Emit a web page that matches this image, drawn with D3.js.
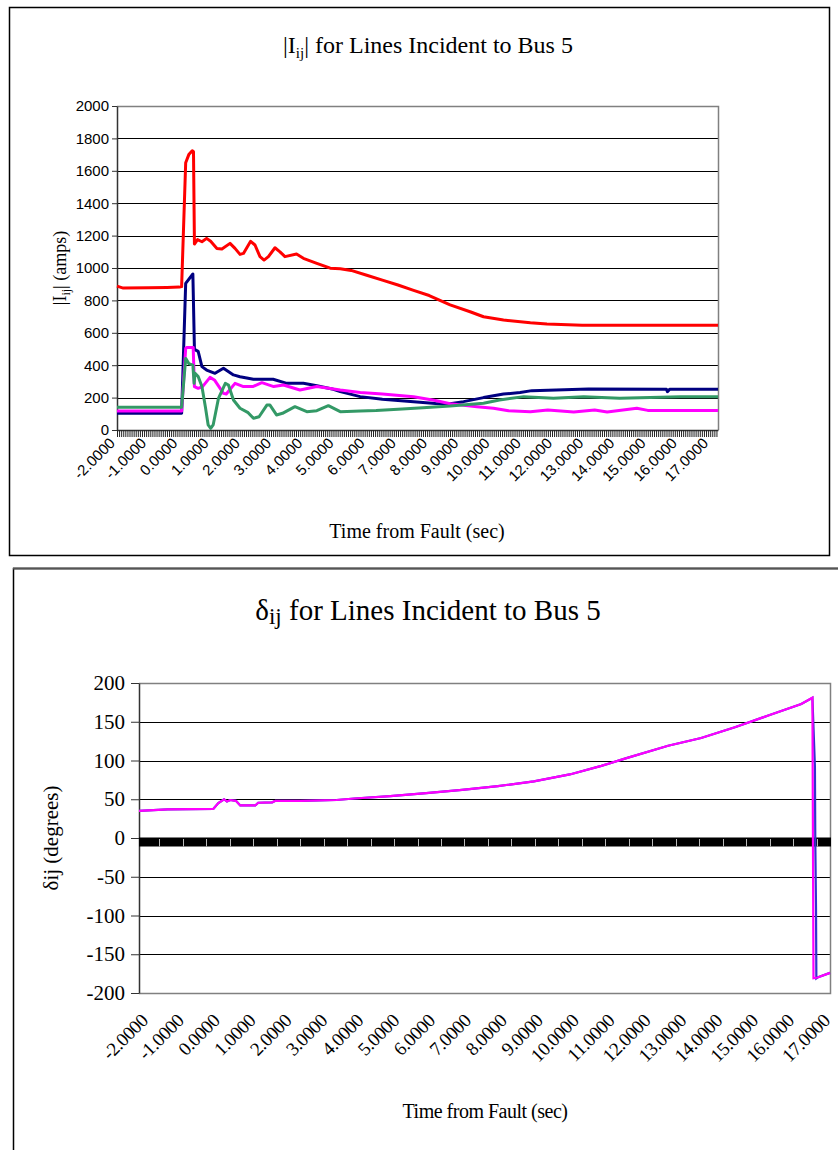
<!DOCTYPE html>
<html>
<head>
<meta charset="utf-8">
<script src="https://cdn.jsdelivr.net/npm/d3@7"></script>
<style>
  html, body { margin: 0; padding: 0; background: #fff; }
  svg { display: block; }
</style>
</head>
<body>
<svg id="chart" width="838" height="1150"></svg>
<script>
// ---- shared time axis (seconds from fault) ----
const timeDomain = [-2, 17.25];
const xLabelTimes = [-2, -1, 0, 1, 2, 3, 4, 5, 6, 7, 8, 9, 10, 11, 12, 13, 14, 15, 16, 17];

// ---- |Iij| currents (amps) : [time, amps] ----
const currentTicks = [0, 200, 400, 600, 800, 1000, 1200, 1400, 1600, 1800, 2000];

const currentRed = [
  [-2, 888], [-1.8, 876], [-1.0, 878], [-0.4, 880], [0.0, 882], [0.07, 885],
  [0.2, 1650], [0.3, 1700], [0.41, 1724], [0.45, 1718], [0.48, 1148], [0.58, 1175],
  [0.72, 1162], [0.87, 1183], [1.0, 1165], [1.2, 1121], [1.36, 1117], [1.62, 1152],
  [1.78, 1121], [1.94, 1084], [2.05, 1090], [2.28, 1165], [2.42, 1142], [2.58, 1070],
  [2.71, 1049], [2.85, 1070], [3.06, 1125], [3.22, 1100], [3.38, 1070], [3.75, 1086],
  [3.97, 1060], [4.4, 1029], [4.83, 999], [5.15, 995], [5.5, 985], [6.0, 955],
  [6.5, 925], [7.0, 895], [7.5, 862], [8.0, 830], [8.67, 772], [9.31, 730],
  [9.74, 699], [10.38, 679], [11.24, 662], [11.77, 654], [12.9, 646], [17.25, 646]
];

const currentNavy = [
  [-2, 103], [0.07, 103], [0.2, 905], [0.43, 963], [0.48, 498], [0.6, 485],
  [0.72, 391], [0.87, 370], [1.14, 350], [1.41, 381], [1.73, 340], [1.94, 329],
  [2.37, 313], [3.0, 313], [3.44, 288], [3.97, 288], [4.4, 273], [4.93, 251],
  [5.15, 237], [5.79, 206], [6.5, 190], [7.5, 175], [8.2, 163], [8.67, 162],
  [9.1, 175], [9.74, 200], [10.38, 222], [10.91, 231], [11.29, 243], [13.1, 253],
  [15.6, 251], [15.63, 237], [15.7, 251], [17.25, 251]
];

const currentMagenta = [
  [-2, 117], [0.07, 117], [0.2, 504], [0.25, 510], [0.44, 510], [0.48, 268],
  [0.6, 257], [0.74, 268], [0.98, 325], [1.12, 309], [1.41, 226], [1.5, 222],
  [1.78, 288], [2.05, 268], [2.35, 268], [2.64, 292], [3.02, 268], [3.33, 278],
  [3.86, 247], [4.4, 268], [5.15, 247], [5.79, 232], [6.5, 222], [7.5, 205],
  [8.2, 182], [8.67, 162], [9.53, 144], [10.06, 134], [10.54, 119], [11.24, 113],
  [11.8, 123], [12.63, 111], [13.3, 123], [13.7, 111], [14.65, 134], [15.0, 121],
  [17.25, 121]
];

const currentGreen = [
  [-2, 140], [0.07, 140], [0.2, 442], [0.3, 410], [0.43, 401], [0.47, 288],
  [0.5, 350], [0.6, 330], [0.72, 268], [0.83, 144], [0.92, 31], [1.0, 10],
  [1.08, 31], [1.25, 195], [1.47, 288], [1.57, 278], [1.73, 185], [1.94, 134],
  [2.2, 107], [2.37, 72], [2.55, 82], [2.8, 154], [2.9, 154], [3.11, 93],
  [3.3, 103], [3.7, 144], [4.08, 113], [4.4, 119], [4.77, 150], [5.15, 113],
  [5.79, 117], [6.3, 120], [7.0, 128], [7.8, 138], [8.67, 148], [9.74, 165],
  [10.25, 185], [11.03, 206], [11.98, 196], [12.95, 206], [14.1, 196], [16.05, 206],
  [17.25, 206]
];

// ---- delta_ij angles (degrees) : [time, degrees] ----
const angleTicks = [200, 150, 100, 50, 0, -50, -100, -150, -200];

const angleMagenta = [
  [-2, 35], [-1.2, 37], [0.07, 37.5], [0.21, 45], [0.37, 50], [0.45, 47],
  [0.54, 49], [0.7, 48], [0.82, 42], [1.24, 42], [1.32, 45.5], [1.71, 46],
  [1.8, 48], [2.5, 48], [3.5, 49], [4.0, 51], [5.0, 54], [6.0, 58],
  [7.0, 62], [8.0, 67], [9.0, 73], [10.0, 82], [10.88, 93], [11.58, 103],
  [12.74, 119], [13.66, 129], [14.6, 143], [15.53, 158], [16.45, 173], [16.76, 181],
  [16.79, -181], [16.9, -180], [17.25, -174]
];

const angleBlue = [
  [-2, 35], [-1.2, 37], [0.07, 37.5], [0.21, 45], [0.37, 50], [0.45, 47],
  [0.54, 49], [0.7, 48], [0.82, 42], [1.24, 42], [1.32, 45.5], [1.71, 46],
  [1.8, 48], [2.5, 48], [3.5, 49], [4.0, 51], [5.0, 54], [6.0, 58],
  [7.0, 62], [8.0, 67], [9.0, 73], [10.0, 82], [10.88, 93], [11.58, 103],
  [12.74, 119], [13.66, 129], [14.6, 143], [15.53, 158], [16.45, 173], [16.76, 181],
  [16.83, 92], [16.84, -3], [16.86, -88], [16.87, -181], [16.9, -180], [17.25, -174]
];

// axis tick spacing (seconds)
const currentMinorStep = 1 / 15;
const angleMajorStep = 0.654;
const angleMajorStart = -1.435;

const SANS = "'Liberation Sans', Arial, sans-serif";
const SERIF = "'Liberation Serif', 'Times New Roman', serif";
const fmt4 = d => d.toFixed(4);

const svg = d3.select("#chart");

// =====================================================================
// Panel 1 : |Iij| for Lines Incident to Bus 5
// =====================================================================
svg.append("rect")
  .attr("x", 9.5).attr("y", 7.5).attr("width", 820).attr("height", 548)
  .attr("fill", "#fff").attr("stroke", "#000").attr("stroke-width", 1.5);

const p1 = { left: 117, right: 718, top: 106, bottom: 430 };
const x1 = d3.scaleLinear().domain(timeDomain).range([p1.left, p1.right]);
const y1 = d3.scaleLinear().domain([0, 2000]).range([p1.bottom, p1.top]);

// horizontal gridlines
svg.append("g").selectAll("line")
  .data(currentTicks.filter(d => d > 0 && d < 2000))
  .join("line")
  .attr("x1", p1.left).attr("x2", p1.right)
  .attr("y1", d => Math.round(y1(d)) + 0.5).attr("y2", d => Math.round(y1(d)) + 0.5)
  .attr("stroke", "#000").attr("stroke-width", 1);

// plot frame (top and right edges)
svg.append("path")
  .attr("d", `M${p1.left},${p1.top + 0.5}H${p1.right + 0.5}V${p1.bottom}`)
  .attr("fill", "none").attr("stroke", "#808080").attr("stroke-width", 1.5);

// y axis
const gy1 = svg.append("g").attr("transform", `translate(${p1.left},0)`)
  .call(d3.axisLeft(y1).tickValues(currentTicks).tickSize(5).tickSizeOuter(0).tickFormat(d => String(d)));
gy1.select(".domain").attr("stroke", "#333").attr("stroke-width", 1.5);
gy1.selectAll(".tick line").attr("stroke", "#333");
gy1.selectAll(".tick text").attr("x", -8).attr("font-family", SANS).attr("font-size", 15).attr("fill", "#000");

// x axis with dense tick marks
const gx1 = svg.append("g").attr("transform", `translate(0,${p1.bottom})`)
  .call(d3.axisBottom(x1)
    .tickValues(d3.range(timeDomain[0], timeDomain[1], currentMinorStep))
    .tickSize(7).tickSizeOuter(0).tickFormat(""));
gx1.select(".domain").attr("stroke", "#333").attr("stroke-width", 1.5);
gx1.selectAll(".tick line").attr("stroke", "#222").attr("stroke-width", 1);

// rotated time labels
svg.append("g").selectAll("text")
  .data(xLabelTimes).join("text")
  .attr("transform", d => `translate(${x1(d) - 1},${p1.bottom + 14}) rotate(-45)`)
  .attr("text-anchor", "end")
  .attr("font-family", SANS).attr("font-size", 15).attr("fill", "#000")
  .text(d => fmt4(d));

// series
const line1 = d3.line().x(d => x1(d[0])).y(d => y1(d[1]));
const currentSeries = [
  { data: currentNavy, color: "#000080" },
  { data: currentMagenta, color: "#ff00ff" },
  { data: currentGreen, color: "#339966" },
  { data: currentRed, color: "#ff0000" }
];
svg.append("g").selectAll("path")
  .data(currentSeries).join("path")
  .attr("d", d => line1(d.data))
  .attr("fill", "none").attr("stroke", d => d.color)
  .attr("stroke-width", 3).attr("stroke-linejoin", "round");

// titles
const t1 = svg.append("text")
  .attr("x", 428).attr("y", 53).attr("text-anchor", "middle")
  .attr("font-family", SERIF).attr("font-size", 24).attr("fill", "#000");
t1.append("tspan").text("|I");
t1.append("tspan").attr("font-size", 15).attr("dy", 5).text("ij");
t1.append("tspan").attr("dy", -5).text("| for Lines Incident to Bus 5");

const yt1 = svg.append("text")
  .attr("transform", `translate(66,${(p1.top + p1.bottom) / 2}) rotate(-90)`)
  .attr("text-anchor", "middle")
  .attr("font-family", SERIF).attr("font-size", 18).attr("fill", "#000");
yt1.append("tspan").text("|I");
yt1.append("tspan").attr("font-size", 12).attr("dy", 4).text("ij");
yt1.append("tspan").attr("dy", -4).text("| (amps)");

svg.append("text")
  .attr("x", 417).attr("y", 538).attr("text-anchor", "middle")
  .attr("font-family", SERIF).attr("font-size", 20).attr("fill", "#000")
  .text("Time from Fault (sec)");

// =====================================================================
// Panel 2 : delta_ij for Lines Incident to Bus 5
// =====================================================================
svg.append("rect")
  .attr("x", 13.5).attr("y", 568.5).attr("width", 840).attr("height", 620)
  .attr("fill", "#fff").attr("stroke", "#000").attr("stroke-width", 1.5);
svg.append("line")
  .attr("x1", 13).attr("x2", 838).attr("y1", 568.5).attr("y2", 568.5)
  .attr("stroke", "#555").attr("stroke-width", 2);

const p2 = { left: 139, right: 830, top: 683, bottom: 993 };
const x2 = d3.scaleLinear().domain(timeDomain).range([p2.left, p2.right]);
const y2 = d3.scaleLinear().domain([-200, 200]).range([p2.bottom, p2.top]);

svg.append("g").selectAll("line")
  .data(angleTicks.filter(d => d !== 0 && d !== 200 && d !== -200))
  .join("line")
  .attr("x1", p2.left).attr("x2", p2.right)
  .attr("y1", d => Math.round(y2(d)) + 0.5).attr("y2", d => Math.round(y2(d)) + 0.5)
  .attr("stroke", "#000").attr("stroke-width", 1);

svg.append("path")
  .attr("d", `M${p2.left},${p2.top + 0.5}H${p2.right + 0.5}V${p2.bottom + 0.5}H${p2.left}`)
  .attr("fill", "none").attr("stroke", "#808080").attr("stroke-width", 1.5);

const gy2 = svg.append("g").attr("transform", `translate(${p2.left},0)`)
  .call(d3.axisLeft(y2).tickValues(angleTicks).tickSize(8).tickSizeOuter(0).tickFormat(d => String(d)));
gy2.select(".domain").attr("stroke", "#333").attr("stroke-width", 1.5);
gy2.selectAll(".tick line").attr("stroke", "#333");
gy2.selectAll(".tick text").attr("x", -14).attr("font-family", SERIF).attr("font-size", 21).attr("fill", "#000");

// zero axis: dense tick band with lighter major marks
const zeroY = y2(0);
svg.append("rect")
  .attr("x", p2.left).attr("y", zeroY - 0.5)
  .attr("width", p2.right - p2.left + 1).attr("height", 9)
  .attr("fill", "#000");
svg.append("g").selectAll("line")
  .data(d3.range(angleMajorStart, timeDomain[1], angleMajorStep))
  .join("line")
  .attr("x1", d => Math.round(x2(d)) + 0.5).attr("x2", d => Math.round(x2(d)) + 0.5)
  .attr("y1", zeroY + 1).attr("y2", zeroY + 8.5)
  .attr("stroke", "#bbb").attr("stroke-width", 1);

svg.append("g").selectAll("text")
  .data(xLabelTimes).join("text")
  .attr("transform", d => `translate(${x2(d) + 10},${1022}) rotate(-45)`)
  .attr("text-anchor", "end")
  .attr("font-family", SERIF).attr("font-size", 19).attr("letter-spacing", -0.5).attr("fill", "#000")
  .text(d => fmt4(d));

const line2 = d3.line().x(d => x2(d[0])).y(d => y2(d[1]));
svg.append("path").attr("d", line2(angleBlue))
  .attr("fill", "none").attr("stroke", "#3333cc").attr("stroke-width", 2.2);
svg.append("path").attr("d", line2(angleMagenta))
  .attr("fill", "none").attr("stroke", "#ff00ff").attr("stroke-width", 2.2);

const t2 = svg.append("text")
  .attr("x", 428).attr("y", 620).attr("text-anchor", "middle")
  .attr("font-family", SERIF).attr("font-size", 29).attr("fill", "#000");
t2.append("tspan").text("δ");
t2.append("tspan").attr("font-size", 23).attr("dy", 4).text("ij");
t2.append("tspan").attr("dy", -4).text(" for Lines Incident to Bus 5");

const yt2 = svg.append("text")
  .attr("transform", `translate(58,${y2(0)}) rotate(-90)`)
  .attr("text-anchor", "middle")
  .attr("font-family", SERIF).attr("font-size", 21).attr("fill", "#000");
yt2.append("tspan").text("δij (degrees)");

svg.append("text")
  .attr("x", 485).attr("y", 1118).attr("text-anchor", "middle")
  .attr("font-family", SERIF).attr("font-size", 20).attr("letter-spacing", -0.5).attr("fill", "#000")
  .text("Time from Fault (sec)");
</script>
</body>
</html>
